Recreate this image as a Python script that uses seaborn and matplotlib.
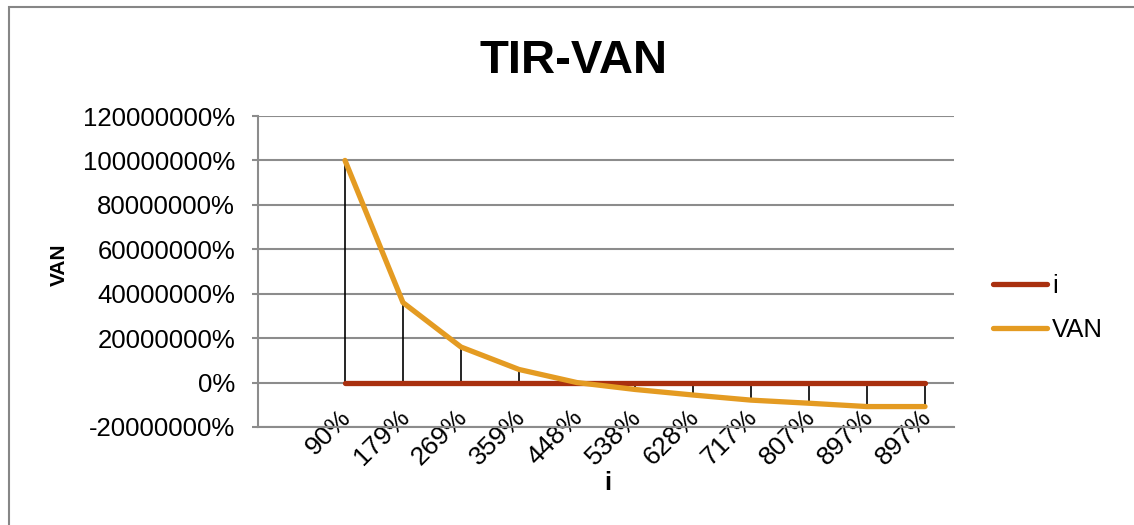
import matplotlib
matplotlib.use("Agg")
import matplotlib.pyplot as plt
import matplotlib.patches as mpatches
import matplotlib.transforms as mtransforms
from matplotlib.ticker import PercentFormatter, FixedLocator
import numpy as np
import pandas as pd
import seaborn as sns

# Discount rates (category labels) and the two series
rate_labels = ["90%", "179%", "269%", "359%", "448%", "538%",
               "628%", "717%", "807%", "897%", "897%"]
i_values = [0, 0, 0, 0, 0, 0, 0, 0, 0, 0, 0]
van_values = [1000000, 360000, 160000, 59000, 0, -31000,
              -56000, -79000, -93000, -108000, -108000]
y_ticks = [-200000, 0, 200000, 400000, 600000, 800000, 1000000, 1200000]

sns.set_theme(style="white")
plt.rcParams["font.family"] = ["Liberation Sans", "DejaVu Sans"]
plt.rcParams["axes.unicode_minus"] = False
plt.rcParams["text.color"] = "black"
plt.rcParams["axes.labelcolor"] = "black"

GRID = "#8c8c8c"
I_COLOR = "#a9300f"
VAN_COLOR = "#e49b22"

W, H = 1134, 525
fig = plt.figure(figsize=(W / 100, H / 100), dpi=100)
fig.patch.set_facecolor("white")

left, right, top, bottom = 258, 954, 116, 427
ax = fig.add_axes([left / W, 1 - bottom / H, (right - left) / W, (bottom - top) / H])

pos = np.arange(len(rate_labels))
df = pd.DataFrame({"pos": np.concatenate([pos, pos]),
                   "valor": i_values + van_values,
                   "serie": ["i"] * len(pos) + ["VAN"] * len(pos)})

# drop lines between the two series
ax.vlines(pos, i_values, van_values, color="black", lw=1.2, zorder=3)

sns.lineplot(data=df, x="pos", y="valor", hue="serie",
             palette={"i": I_COLOR, "VAN": VAN_COLOR},
             lw=3.8, ax=ax, legend=False, zorder=4,
             solid_capstyle="round")

ax.set_xlim(-1.5, len(rate_labels) - 0.5)
ax.set_ylim(y_ticks[0], y_ticks[-1])
ax.yaxis.set_major_locator(FixedLocator(y_ticks))
ax.yaxis.set_major_formatter(PercentFormatter(xmax=1, decimals=0))
ax.set_xticks(pos)
ax.set_xticklabels(rate_labels, rotation=45, ha="right", va="top")

ax.grid(axis="y", color=GRID, lw=1.5)
ax.grid(axis="x", visible=False)
ax.spines["right"].set_visible(False)
ax.spines["top"].set_visible(False)
for side in ["left", "bottom"]:
    ax.spines[side].set_color(GRID)
    ax.spines[side].set_linewidth(1.5)

ax.tick_params(axis="y", which="major", length=4.5, width=1.5, color=GRID,
               pad=12, labelsize=18.5, labelcolor="black", left=True)
ax.tick_params(axis="x", which="major", length=0, pad=-16,
               labelsize=19, labelcolor="black")
shift = mtransforms.ScaledTranslation(11 / 100, 0, fig.dpi_scale_trans)
for lab in ax.get_xticklabels():
    lab.set_transform(lab.get_transform() + shift)

ax.set_xlabel("i", fontsize=18.5, fontweight="bold", va="top")
ax.xaxis.set_label_coords((608 - left) / (right - left), (bottom - 471) / (bottom - top))
ax.set_ylabel("VAN", fontsize=15, fontweight="bold", va="center")
ax.yaxis.set_label_coords((59 - left) / (right - left), (bottom - 265) / (bottom - top))

fig.text(573 / W, 1 - 73 / H, "TIR-VAN", ha="center", va="baseline",
         fontsize=34, fontweight="bold", color="black")

handles = [plt.Line2D([], [], color=I_COLOR, lw=3.8, solid_capstyle="round"),
           plt.Line2D([], [], color=VAN_COLOR, lw=3.8, solid_capstyle="round")]
fig.legend(handles, ["i", "VAN"], loc="center left",
           bbox_to_anchor=(993 / W, 1 - 308 / H), frameon=False,
           fontsize=18.5, handlelength=2.1, handletextpad=0.2,
           labelspacing=0.8, borderpad=0, borderaxespad=0)

# chart-area border (runs off the right and bottom edges)
fig.add_artist(mpatches.Rectangle((8.5 / W, -0.1), 2, 1.1 - 7.5 / H,
                                  transform=fig.transFigure, fill=False,
                                  edgecolor="#868686", lw=1.5))

fig.savefig("out.png", dpi=100)
